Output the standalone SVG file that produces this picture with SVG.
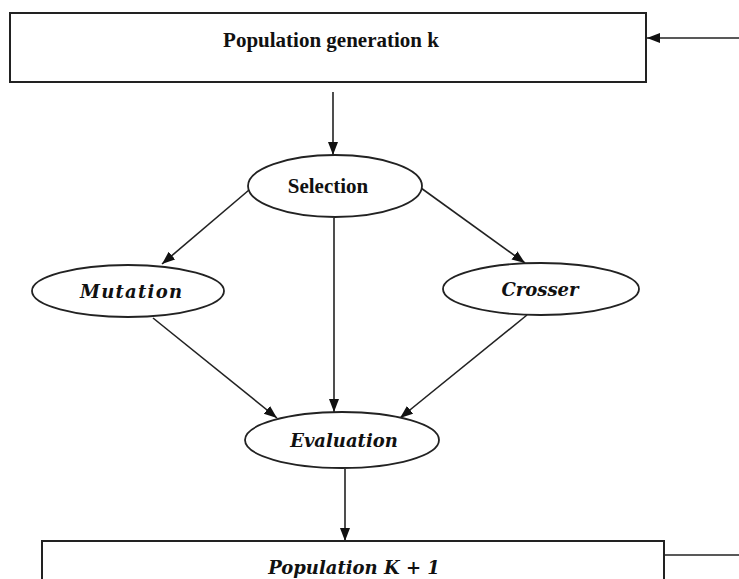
<svg xmlns="http://www.w3.org/2000/svg" width="739" height="579" viewBox="0 0 739 579">
<style>
.box{fill:#fff;stroke:#222;stroke-width:2}
.ell{fill:#fff;stroke:#222;stroke-width:1.8}
.edge{fill:none;stroke:#222;stroke-width:1.6}
.t1{font-family:"Liberation Serif","Times New Roman",serif;font-weight:bold;font-size:21px;fill:#111;text-anchor:middle}
.t2{font-family:"DejaVu Serif",serif;font-weight:bold;font-style:italic;font-size:18px;fill:#111;text-anchor:middle}
</style>
<defs>
<marker id="ah" markerUnits="userSpaceOnUse" markerWidth="14" markerHeight="11" refX="13" refY="5" orient="auto">
<path d="M0,0 L13,5 L0,10 z" fill="#111"/>
</marker>
</defs>
<rect width="739" height="579" fill="#fff"/>
<g id="connectors">
<line class="edge" x1="739" y1="38" x2="647" y2="38" marker-end="url(#ah)"/>
<line class="edge" x1="333" y1="92" x2="333" y2="155" marker-end="url(#ah)"/>
<line class="edge" x1="249" y1="190" x2="162" y2="264" marker-end="url(#ah)"/>
<line class="edge" x1="421" y1="188" x2="525" y2="263" marker-end="url(#ah)"/>
<line class="edge" x1="334" y1="218" x2="334" y2="412" marker-end="url(#ah)"/>
<line class="edge" x1="153" y1="318" x2="277" y2="418" marker-end="url(#ah)"/>
<line class="edge" x1="527" y1="315" x2="400" y2="418" marker-end="url(#ah)"/>
<line class="edge" x1="345" y1="469" x2="345" y2="541" marker-end="url(#ah)"/>
<polyline class="edge" points="664,555 739,555"/>
</g>
<g id="pop_k">
<rect class="box" x="10" y="13" width="636" height="69"/>
<text class="t1" x="331" y="47">Population generation k</text>
</g>
<g id="selection">
<ellipse class="ell" cx="335" cy="186" rx="87" ry="31"/>
<text class="t1" x="328" y="193">Selection</text>
</g>
<g id="mutation">
<ellipse class="ell" cx="128" cy="291" rx="96" ry="26"/>
<text class="t2" x="131" y="298" textLength="102" lengthAdjust="spacing">Mutation</text>
</g>
<g id="crosser">
<ellipse class="ell" cx="541" cy="289" rx="98" ry="26"/>
<text class="t2" x="540" y="296">Crosser</text>
</g>
<g id="evaluation">
<ellipse class="ell" cx="342" cy="440" rx="97" ry="28"/>
<text class="t2" x="344" y="447">Evaluation</text>
</g>
<g id="pop_k1">
<rect class="box" x="42" y="541" width="622" height="70"/>
<text class="t2" x="354" y="574">Population <tspan font-style="italic">K</tspan> + 1</text>
</g>
</svg>
